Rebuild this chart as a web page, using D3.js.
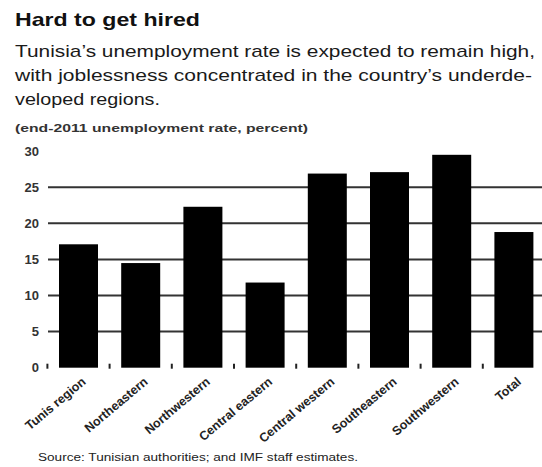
<!DOCTYPE html>
<meta charset="utf-8">
<script src="https://cdn.jsdelivr.net/npm/d3@7"></script>
<style>
body { margin: 0; background: #fff; }
svg { display: block; font-family: "Liberation Sans", Arial, sans-serif; }
.grid line { stroke: #333; stroke-width: 2; }
.ylab text { fill: #333; font-size: 13px; font-weight: bold; }
.xlab text { fill: #222; font-size: 12.5px; font-weight: bold; }
</style>
<body>
<div class="chart"></div>
<script>

// chart data
var regions = ["Tunis region", "Northeastern", "Northwestern", "Central eastern",
               "Central western", "Southeastern", "Southwestern", "Total"];
var rates = [17.1, 14.5, 22.3, 11.8, 26.9, 27.1, 29.5, 18.8];
var yTicks = [0, 5, 10, 15, 20, 25, 30];
var gridTicks = [5, 10, 15, 20, 25];

var title = "Hard to get hired";
var subtitle = ["Tunisia\u2019s unemployment rate is expected to remain high,",
                "with joblessness concentrated in the country\u2019s underde-",
                "veloped regions."];
var units = "(end-2011 unemployment rate, percent)";
var source = "Source: Tunisian authorities; and IMF staff estimates.";

var width = 542, height = 467;

var svg = d3.select(".chart").append("svg")
    .attr("width", width)
    .attr("height", height);

// scales
var x = d3.scaleBand()
    .domain(regions)
    .range([47.4, 545])
    .paddingInner(0.373)
    .paddingOuter(0.1865);

var y = d3.scaleLinear()
    .domain([0, 30])
    .range([367.7, 151.2]);

// headings
svg.append("text")
    .attr("x", 15).attr("y", 26)
    .attr("font-size", 19).attr("font-weight", "bold")
    .attr("fill", "#111")
    .attr("textLength", 185).attr("lengthAdjust", "spacingAndGlyphs")
    .text(title);

var subW = [520, 517, 145];
svg.selectAll(".sub")
    .data(subtitle)
    .enter().append("text")
    .attr("class", "sub")
    .attr("x", 15)
    .attr("y", function(d, i) { return 57 + i * 24; })
    .attr("font-size", 17)
    .attr("fill", "#1a1a1a")
    .attr("textLength", function(d, i) { return subW[i]; })
    .attr("lengthAdjust", "spacingAndGlyphs")
    .text(function(d) { return d; });

svg.append("text")
    .attr("x", 15).attr("y", 132)
    .attr("font-size", 11).attr("font-weight", "bold")
    .attr("fill", "#333")
    .attr("textLength", 293).attr("lengthAdjust", "spacingAndGlyphs")
    .text(units);

// gridlines
svg.append("g")
    .attr("class", "grid")
  .selectAll("line")
  .data(gridTicks)
  .enter().append("line")
    .attr("x1", 48).attr("x2", width)
    .attr("y1", function(d) { return y(d); })
    .attr("y2", function(d) { return y(d); });

// y labels
svg.append("g")
    .attr("class", "ylab")
  .selectAll("text")
  .data(yTicks)
  .enter().append("text")
    .attr("x", 39)
    .attr("y", function(d) { return y(d); })
    .attr("dy", "0.36em")
    .attr("text-anchor", "end")
    .text(function(d) { return d; });

// bars
svg.append("g")
  .selectAll("rect")
  .data(regions)
  .enter().append("rect")
    .attr("x", function(d) { return x(d); })
    .attr("width", x.bandwidth())
    .attr("y", function(d, i) { return y(rates[i]); })
    .attr("height", function(d, i) { return y(0) - y(rates[i]); })
    .attr("fill", "#000");

// small ticks between categories at zero
var gap = (x.step() - x.bandwidth()) / 2;
svg.append("g")
  .selectAll("line")
  .data(regions)
  .enter().append("line")
    .attr("x1", function(d) { return x(d) - gap; })
    .attr("x2", function(d) { return x(d) - gap; })
    .attr("y1", y(0) - 4).attr("y2", y(0) + 1)
    .attr("stroke", "#222").attr("stroke-width", 2);

// x labels
svg.append("g")
    .attr("class", "xlab")
  .selectAll("text")
  .data(regions)
  .enter().append("text")
    .attr("text-anchor", "end")
    .attr("transform", function(d) {
      return "translate(" + (x(d) + x.bandwidth() / 2 + 8) + ",383) rotate(-40)";
    })
    .text(function(d) { return d; });

// source
svg.append("text")
    .attr("x", 38).attr("y", 461)
    .attr("font-size", 10)
    .attr("fill", "#222")
    .attr("textLength", 320).attr("lengthAdjust", "spacingAndGlyphs")
    .text(source);

</script>
</body>
